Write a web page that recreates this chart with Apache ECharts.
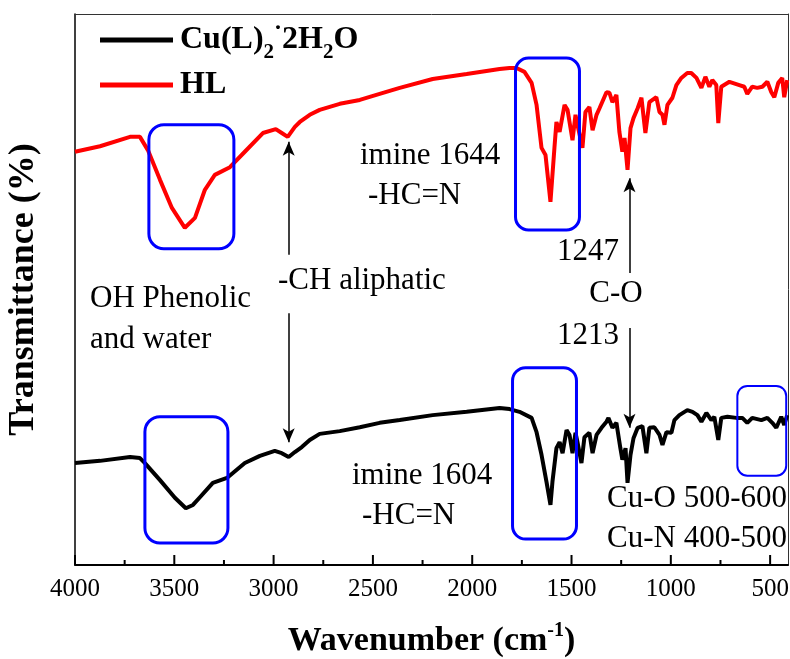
<!DOCTYPE html>
<html><head><meta charset="utf-8">
<script src="https://cdn.jsdelivr.net/npm/echarts@6/dist/echarts.min.js"></script>
<style>html,body{margin:0;padding:0;background:#fff}#c{width:790px;height:659px}</style>
</head><body><div id="c"></div>
<script>
// ---- data (wavenumber cm-1, relative transmittance) ----
const hlWavenumber = [4000,3874,3723,3673,3633,3572,3512,3447,3396,3346,3296,3220,3145,3054,2989,2959,2929,2893,2868,2818,2768,2667,2566,2466,2365,2199,2028,1862,1812,1777,1737,1701,1676,1651,1631,1606,1586,1576,1560,1535,1520,1510,1495,1480,1470,1445,1430,1410,1394,1374,1359,1324,1309,1294,1274,1259,1244,1233,1218,1203,1188,1167,1148,1128,1108,1073,1057,1042,1032,1017,992,972,947,917,897,871,846,826,806,791,771,761,746,705,655,630,615,590,565,539,514,494,479,459,439,429,414];
const hlTransmittance = [75.0,76.0,77.7,77.7,75.3,69.9,64.8,61.2,63.0,68.1,70.8,72.2,75.0,78.4,79.1,78.4,77.7,79.5,80.4,81.7,82.6,83.7,84.4,85.5,86.6,88.2,89.1,90.0,90.2,90.2,89.5,87.5,83.5,75.7,74.4,65.9,75.7,80.4,78.6,83.5,82.6,80.4,77.1,81.7,79.9,75.7,82.2,83.1,78.9,81.7,82.9,85.8,85.7,84.0,85.3,78.6,75.0,77.5,71.7,79.3,81.1,82.9,84.8,78.4,84.0,84.9,82.2,81.7,79.9,83.5,84.8,87.1,88.4,89.3,89.3,88.4,86.6,88.6,86.8,88.0,87.1,80.2,86.8,87.7,87.1,86.8,85.5,86.8,86.6,86.8,87.7,85.8,84.9,87.5,88.4,84.9,88.0];
const cuWavenumber = [4000,3874,3723,3673,3648,3572,3497,3442,3406,3371,3306,3235,3145,3069,2994,2959,2924,2893,2858,2818,2768,2667,2566,2466,2365,2199,2028,1862,1812,1762,1701,1676,1651,1626,1606,1596,1576,1560,1545,1525,1510,1495,1480,1470,1450,1435,1410,1394,1374,1349,1324,1314,1294,1274,1254,1244,1228,1218,1203,1188,1167,1143,1123,1108,1083,1057,1042,1022,997,982,957,917,891,866,846,821,796,781,761,746,715,670,640,615,590,544,514,489,469,444,429,414];
const cuTransmittance = [18.5,18.9,19.6,19.4,18.5,15.4,12.2,10.3,10.9,12.3,14.9,15.8,18.5,19.8,20.7,20.3,19.6,20.5,21.4,22.7,23.8,24.3,25.0,25.8,26.3,27.2,27.8,28.5,28.3,27.8,26.7,24.1,20.0,15.1,10.9,15.1,21.2,22.3,20.3,24.5,23.6,20.3,24.0,22.3,18.5,23.2,24.0,20.3,23.6,24.9,26.0,26.7,24.9,25.8,21.2,19.1,21.2,14.9,20.0,23.0,24.9,25.2,20.3,24.9,25.0,23.6,21.8,24.1,24.0,26.3,27.2,28.1,27.8,27.2,26.0,27.6,26.3,26.9,22.7,26.7,26.9,26.7,26.7,25.8,26.7,26.3,26.7,25.8,24.9,26.9,25.4,27.2];
const majorTicks = [4000,3500,3000,2500,2000,1500,1000,500];
const minorTicks = [3750,3250,2750,2250,1750,1250,750];
const seriesNames = ['Cu(L)2·2H2O','HL'];
// highlight boxes: [wnLeft, wnRight, top, bottom]
const boxRegions = [[3628,3200,79.9,57.4],[1782,1460,92.0,60.8],[3648,3230,26.9,4.0],[1797,1475,35.8,4.7],[665,419,32.5,16.2]];
// arrows: [wavenumber, from, to]
const arrowMarks = [[2924,56.3,76.8],[2924,45.7,22.3],[1208,53.0,70.2],[1208,43.0,24.9]];
const noteTexts = ['imine 1644','-HC=N','-CH aliphatic','OH Phenolic','and water','1247','C-O','1213','imine 1604','-HC=N','Cu-O 500-600','Cu-N 400-500'];

const SERIF = 'Liberation Serif, Times New Roman, serif';
const X_MIN = 410, X_MAX = 4000, Y_MIN = 0, Y_MAX = 100;
const zip = (a, b) => a.map((v, i) => [v, b[i]]);

const chart = echarts.init(document.getElementById('c'), null, {renderer: 'canvas'});
const plainAxis = {axisLabel: {show: false}, splitLine: {show: false}, axisTick: {show: false}};
const option = {
  animation: false,
  backgroundColor: '#fff',
  grid: {left: 75, right: 2, top: 14, bottom: 94, show: false, containLabel: false, outerBoundsMode: 'none'},
  legend: {
    data: seriesNames, orient: 'vertical', left: 95, top: 12, itemWidth: 73, itemHeight: 5,
    icon: 'rect', itemGap: 6, selectedMode: false,
    formatter: function (name) {
      if (name === seriesNames[0]) return '{sp| }{n|Cu(L)}{s|2}{d|·}{n|2H}{s|2}{n|O}';
      return '{sp| }{n|HL}';
    },
    textStyle: {
      color: '#000',
      rich: {
        sp: {width: 2, fontSize: 10},
        n: {fontFamily: SERIF, fontWeight: 'bold', fontSize: 32, lineHeight: 46, color: '#000'},
        s: {fontFamily: SERIF, fontWeight: 'bold', fontSize: 21, verticalAlign: 'bottom', color: '#000'},
        d: {fontFamily: SERIF, fontWeight: 'bold', fontSize: 24, verticalAlign: 'top', color: '#000'}
      }
    }
  },
  xAxis: [{
    type: 'value', inverse: true, min: X_MIN, max: X_MAX, position: 'bottom',
    axisLine: {show: true, onZero: false, lineStyle: {color: '#000', width: 2}},
    axisTick: {show: false},
    axisLabel: {customValues: majorTicks, margin: 12, fontFamily: SERIF, fontSize: 25, color: '#000',
                formatter: v => String(v), hideOverlap: false},
    splitLine: {show: false},
    name: '{t|Wavenumber (cm}{u|-1}{t|)}', nameLocation: 'middle', nameGap: 56,
    nameTextStyle: {
      rich: {
        t: {fontFamily: SERIF, fontWeight: 'bold', fontSize: 34, lineHeight: 40, color: '#000'},
        u: {fontFamily: SERIF, fontWeight: 'bold', fontSize: 20, verticalAlign: 'top', color: '#000'}
      }
    }
  }, Object.assign({
    type: 'value', inverse: true, min: X_MIN, max: X_MAX, position: 'top',
    axisLine: {show: true, onZero: false, lineStyle: {color: '#333', width: 1}}
  }, plainAxis)],
  yAxis: [{
    type: 'value', min: Y_MIN, max: Y_MAX, position: 'left',
    axisLine: {show: true, onZero: false, lineStyle: {color: '#000', width: 1.5}},
    axisTick: {show: false}, axisLabel: {show: false}, splitLine: {show: false},
    name: 'Transmittance (%)', nameLocation: 'middle', nameGap: 33,
    nameTextStyle: {fontFamily: SERIF, fontWeight: 'bold', fontSize: 36, color: '#000'}
  }, Object.assign({
    type: 'value', min: Y_MIN, max: Y_MAX, position: 'right',
    axisLine: {show: true, onZero: false, lineStyle: {color: '#333', width: 1}}
  }, plainAxis)],
  series: [{
    name: seriesNames[0], type: 'line', xAxisIndex: 0, yAxisIndex: 0, showSymbol: false, symbol: 'none',
    color: '#000', lineStyle: {color: '#000', width: 4}, z: 3,
    data: zip(cuWavenumber, cuTransmittance),
    markLine: {
      silent: true, symbol: ['none', 'arrow'], symbolSize: [9, 14], animation: false,
      lineStyle: {color: '#000', width: 1.5, type: 'solid'}, label: {show: false},
      data: arrowMarks.map(a => [{coord: [a[0], a[1]]}, {coord: [a[0], a[2]]}])
    }
  }, {
    name: seriesNames[1], type: 'line', xAxisIndex: 0, yAxisIndex: 0, showSymbol: false, symbol: 'none',
    color: '#f00', lineStyle: {color: '#f00', width: 4}, z: 3,
    data: zip(hlWavenumber, hlTransmittance)
  }]
};
chart.setOption(option);

// annotation layout (pixel positions of the text notes)
const notePos = [
  [360, 156, 'left'], [368, 196, 'left'], [278, 281, 'left'], [90, 299, 'left'], [90, 340, 'left'],
  [588, 252, 'center'], [616, 294, 'center'], [588, 336, 'center'],
  [352, 476, 'left'], [362, 516, 'left'], [607, 499, 'left'], [607, 539, 'left']
];
const boxStyle = [[15, 3], [13, 3], [15, 3], [13, 3], [10, 2]];
const graphics = [];
const toPx = (x, y) => chart.convertToPixel({xAxisIndex: 0, yAxisIndex: 0}, [x, y]);
// inward ticks on the wavenumber axis, positioned through the axis scale
[[majorTicks, 10], [minorTicks, 5]].forEach(([vals, len]) => {
  vals.forEach(v => {
    const p = toPx(v, Y_MIN);
    graphics.push({
      type: 'line', z: 20, silent: true,
      shape: {x1: p[0], y1: p[1], x2: p[0], y2: p[1] - len},
      style: {stroke: '#000', lineWidth: 2}
    });
  });
});
boxRegions.forEach((b, i) => {
  const p1 = toPx(b[0], b[2]);
  const p2 = toPx(b[1], b[3]);
  graphics.push({
    type: 'rect', z: 10, silent: true,
    shape: {x: p1[0], y: p1[1], width: p2[0] - p1[0], height: p2[1] - p1[1], r: boxStyle[i][0]},
    style: {fill: 'none', stroke: '#0000ff', lineWidth: boxStyle[i][1]}
  });
});
noteTexts.forEach((t, i) => {
  graphics.push({
    type: 'text', z: 10, silent: true, x: notePos[i][0], y: notePos[i][1],
    style: {text: t, fontFamily: SERIF, fontSize: 31, fill: '#000', align: notePos[i][2], verticalAlign: 'middle'}
  });
});
chart.setOption({graphic: graphics});
</script></body></html>
